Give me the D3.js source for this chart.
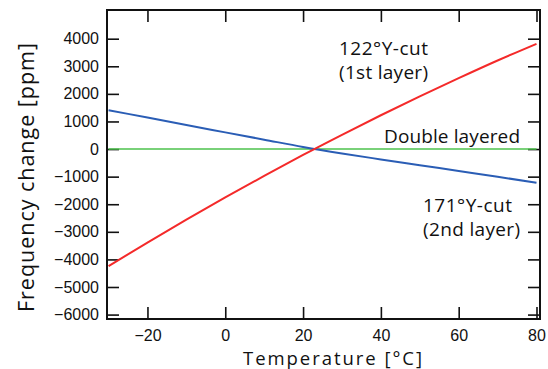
<!DOCTYPE html>
<html lang="en">
<head>
<meta charset="UTF-8">
<title>Frequency change vs temperature</title>
<style>
  body { margin: 0; background: #fff; }
  .title { font-family: "Open Sans", sans-serif; fill: #111; }
  .note { font-family: "Open Sans", sans-serif; font-size: 19px; fill: #111; }
</style>
</head>
<body>
<div id="chart"></div>
<script src="https://d3js.org/d3.v7.min.js"></script>
<script>
// temperatures (deg C) where the curves were read
const temps = [-30, -20, -10, 0, 10, 20, 30, 40, 50, 60, 70, 80];
// 122 deg Y-cut (1st layer), ppm
const firstLayer = [-4240, -3390, -2560, -1755, -975, -215, 515, 1225, 1910, 2570, 3210, 3815];
// 171 deg Y-cut (2nd layer), ppm
const secondLayer = [1410, 1140, 870, 605, 340, 75, -160, -375, -585, -795, -1005, -1220];
// double layered, ppm
const doubleLayer = [0, 0, 0, 0, 0, 0, 0, 0, 0, 0, 0, 0];

const xTicks = [-20, 0, 20, 40, 60, 80];
const yTicks = [-6000, -5000, -4000, -3000, -2000, -1000, 0, 1000, 2000, 3000, 4000];

const W = 548, H = 369;
const mLeft = 107, mRight = 540, mTop = 10, mBottom = 319;

const svg = d3.select("#chart").append("svg")
  .attr("width", W)
  .attr("height", H);

const x = d3.scaleLinear().domain([-30.4, 80.9]).range([mLeft, mRight]);
const y = d3.scaleLinear().domain([-6160, 5040]).range([mBottom, mTop]);

// axes with inward ticks on all four sides
const tl = 12;
function styleAxis(g) {
  g.select(".domain").remove();
  g.selectAll(".tick line").attr("stroke", "#111").attr("stroke-width", 1.6);
  g.selectAll(".tick text")
    .attr("fill", "#111")
    .style("font-family", "'Liberation Sans', sans-serif")
    .style("font-size", "16px");
}
svg.append("g").attr("transform", `translate(0,${mBottom})`)
  .call(d3.axisBottom(x).tickValues(xTicks).tickSize(-tl).tickPadding(11).tickFormat(d3.format("d")))
  .call(styleAxis);
svg.append("g").attr("transform", `translate(0,${mTop})`)
  .call(d3.axisTop(x).tickValues(xTicks).tickSize(-tl).tickFormat(""))
  .call(styleAxis);
svg.append("g").attr("transform", `translate(${mLeft},0)`)
  .call(d3.axisLeft(y).tickValues(yTicks).tickSize(-tl).tickPadding(8).tickFormat(d3.format("d")))
  .call(styleAxis);
svg.append("g").attr("transform", `translate(${mRight},0)`)
  .call(d3.axisRight(y).tickValues(yTicks).tickSize(-tl).tickFormat(""))
  .call(styleAxis);

svg.append("rect")
  .attr("x", mLeft).attr("y", mTop)
  .attr("width", mRight - mLeft).attr("height", mBottom - mTop)
  .attr("fill", "none").attr("stroke", "#111").attr("stroke-width", 2);

// curves
const line = d3.line().x(d => x(d[0])).y(d => y(d[1])).curve(d3.curveMonotoneX);
const series = [
  { vals: doubleLayer, color: "#4cc24c", w: 1.6 },
  { vals: secondLayer, color: "#2a5db5", w: 2 },
  { vals: firstLayer, color: "#f42a2a", w: 2 }
];
series.forEach(s => {
  svg.append("path")
    .datum(temps.map((t, i) => [t, s.vals[i]]))
    .attr("fill", "none")
    .attr("stroke", s.color)
    .attr("stroke-width", s.w)
    .attr("d", line);
});

// labels
const notes = [
  { t: "122°Y-cut", x: 339, y: 55, w: 89 },
  { t: "(1st layer)", x: 339, y: 79, w: 89 },
  { t: "Double layered", x: 384, y: 143, w: 136 },
  { t: "171°Y-cut", x: 423, y: 212, w: 89 },
  { t: "(2nd layer)", x: 423, y: 236, w: 97 }
];
svg.selectAll(".note").data(notes).enter().append("text")
  .attr("class", "note")
  .attr("x", d => d.x).attr("y", d => d.y)
  .attr("textLength", d => d.w)
  .attr("lengthAdjust", "spacing")
  .text(d => d.t);

svg.append("text").attr("class", "title")
  .attr("x", 243).attr("y", 365)
  .attr("textLength", 179)
  .attr("lengthAdjust", "spacing")
  .style("font-size", "18.5px")
  .text("Temperature [°C]");

svg.append("text").attr("class", "title")
  .attr("transform", "translate(34,312) rotate(-90)")
  .attr("textLength", 269)
  .attr("lengthAdjust", "spacing")
  .style("font-size", "21.5px")
  .text("Frequency change [ppm]");
</script>
</body>
</html>
